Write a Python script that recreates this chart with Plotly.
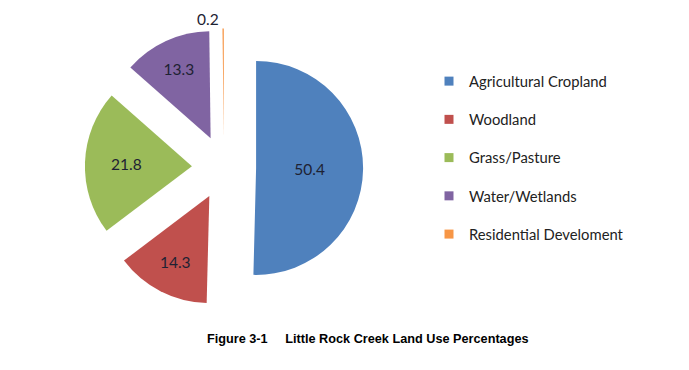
import plotly.graph_objects as go

categories = ["Agricultural Cropland", "Woodland", "Grass/Pasture", "Water/Wetlands", "Residential Develoment"]
values = [50.4, 14.3, 21.8, 13.3, 0.2]
colors = ["#4F81BD", "#C0504D", "#9BBB59", "#8064A2", "#F79646"]
title_text = "<b>Figure 3-1\u00a0\u00a0\u00a0\u00a0 Little Rock Creek Land Use Percentages</b>"

W, H = 689, 370
cx, cy, r, pull = 216, 159.5, 107, 0.30
half = r * (1 + pull)

fig = go.Figure()
fig.add_trace(go.Pie(
    labels=categories,
    values=values,
    sort=False,
    direction="clockwise",
    rotation=0,
    pull=[pull] * len(values),
    marker=dict(colors=colors, line=dict(width=0)),
    textinfo="value",
    texttemplate="%{value}",
    textposition=["inside", "inside", "inside", "inside", "outside"],
    insidetextorientation="horizontal",
    textfont=dict(family="Lato, Open Sans, sans-serif", size=15.5, color="#1e2233"),
    showlegend=False,
    automargin=False,
    hoverinfo="label+value",
    domain=dict(x=[(cx - half) / W, (cx + half) / W],
                y=[1 - (cy + half) / H, 1 - (cy - half) / H]),
))

for name, col in zip(categories, colors):
    fig.add_trace(go.Scatter(
        x=[None], y=[None], mode="markers", name=name, legendgroup=name,
        marker=dict(symbol="square", size=9, color=col),
        showlegend=True,
    ))

fig.update_layout(
    width=W, height=H,
    margin=dict(l=0, r=0, t=0, b=0, pad=0, autoexpand=False),
    paper_bgcolor="white", plot_bgcolor="white",
    xaxis=dict(visible=False), yaxis=dict(visible=False),
    legend=dict(
        x=421 / W, y=1 - 57 / H, xanchor="left", yanchor="top",
        font=dict(family="Lato, Open Sans, sans-serif", size=14.8, color="#222222"),
        tracegroupgap=16, itemsizing="trace",
        bgcolor="rgba(0,0,0,0)",
    ),
    annotations=[dict(
        text=title_text, x=360 / W, y=1 - 331 / H, xref="paper", yref="paper",
        xanchor="center", yanchor="middle", showarrow=False,
        font=dict(family="Liberation Sans, Arial, sans-serif", size=12.7, color="#000000"),
    )],
)

fig.write_html("out.html")
